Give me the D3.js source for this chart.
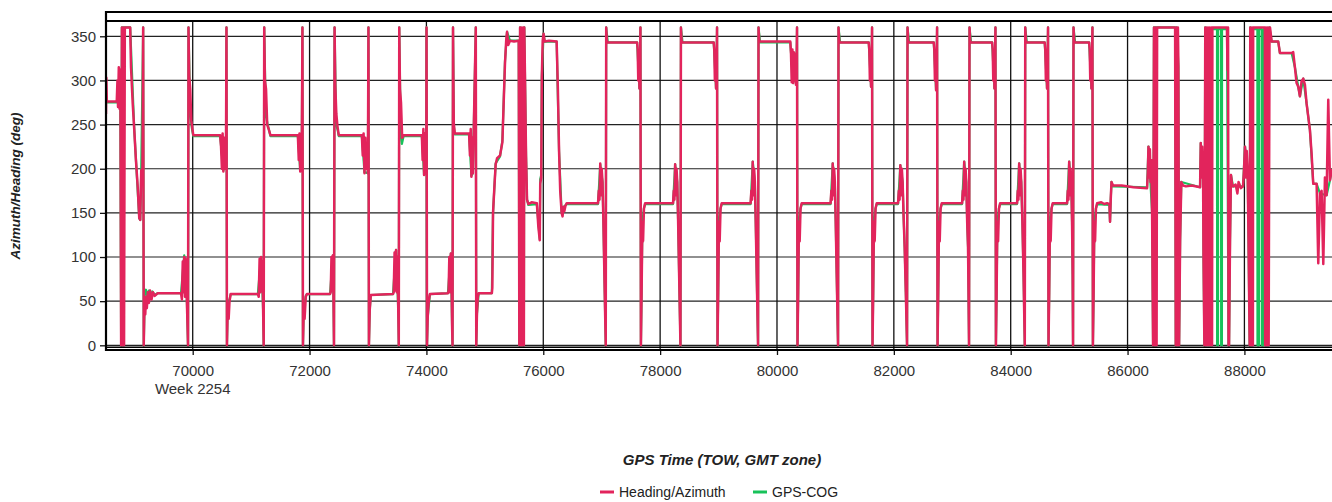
<!DOCTYPE html>
<html><head><meta charset="utf-8">
<script src="https://cdn.jsdelivr.net/npm/d3@7"></script>
<style>body{margin:0;background:#fff}svg{display:block}text{font-family:"Liberation Sans",Arial,sans-serif}</style>
</head><body><svg id="c" width="1332" height="502"></svg>
<script>
// ---- DATA ----
const seriesNames = ["Heading/Azimuth", "GPS-COG"];
const xTicks = [70000, 72000, 74000, 76000, 78000, 80000, 82000, 84000, 86000, 88000];
const yTicks = [0, 50, 100, 150, 200, 250, 300, 350];
const weekLabel = "Week 2254";
const xTitle = "GPS Time (TOW, GMT zone)";
const yTitle = "Azimuth/Heading (deg)";

// Heading/Azimuth: [GPS time (s), heading (deg)]
const headingPts = [
[68516,262],[68522,303],[68530,276],[68700,276],[68712,300],[68722,270],[68735,315],[68748,268],[68762,312],[68775,0],[68788,360],[68800,0],[68812,360],[68825,0],[68838,360],[68930,360],[68944,315],[68973,274],[69000,244],[69028,210],[69058,180],[69085,144],[69102,142],[69119,198],[69140,200],[69152,360],[69162,0],
[69175,50],[69188,35],[69200,55],[69215,42],[69232,60],[69250,48],[69270,62],[69295,52],[69320,60],[69350,56],[69400,59],[69800,59],
[69815,52],[69830,95],[69842,60],[69855,100],[69868,55],[69880,98],[69893,70],[69908,30],[69920,0],[69928,360],[69940,305],[69958,290],[69975,255],[69995,245],[70010,238],
[70470,238],[70485,225],[70500,200],[70512,240],[70525,197],[70540,235],[70555,200],[70570,230],[70578,360],[70586,0],[70600,45],[70615,30],[70630,50],[70650,58],
[71115,58],[71130,55],[71145,98],[71158,60],[71170,100],[71183,65],[71195,95],[71205,40],[71215,0],[71224,360],[71236,300],[71255,290],[71275,250],[71300,245],[71330,238],
[71800,238],[71815,210],[71828,240],[71840,197],[71852,230],[71865,200],[71878,360],[71887,0],[71900,40],[71915,30],[71935,55],[71955,58],
[72350,58],[72362,60],[72375,100],[72388,62],[72400,102],[72410,50],[72418,0],[72428,360],[72440,295],[72458,262],[72478,248],[72500,238],
[72895,238],[72910,215],[72925,240],[72940,195],[72955,235],[72970,200],[72985,225],[72998,195],[73008,360],[73016,0],[73030,40],[73048,57],
[73428,58],[73440,60],[73455,105],[73468,62],[73480,108],[73493,60],[73505,100],[73518,40],[73527,0],[73535,360],[73548,290],[73565,275],[73585,235],[73610,238],
[73922,238],[73935,210],[73948,245],[73960,193],[73972,240],[73985,195],[73998,220],[74002,360],[74010,0],[74022,32],[74040,50],[74060,58],
[74368,59],[74380,62],[74392,100],[74405,60],[74418,104],[74430,70],[74440,20],[74447,0],[74455,360],[74468,252],[74485,240],
[74730,240],[74745,215],[74758,245],[74770,191],[74782,235],[74795,195],[74845,360],[74853,0],[74865,36],[74880,55],[74895,59],
[75120,59],[75128,65],[75140,150],[75160,175],[75185,205],[75210,212],[75260,215],[75300,230],[75320,270],[75345,320],[75365,345],[75380,355],[75400,340],[75430,345],[75500,344],[75580,345],
[75590,0],[75603,360],[75617,0],[75630,360],[75645,0],[75658,360],[75668,0],[75675,360],[75690,290],[75705,215],[75722,165],[75745,160],[75800,162],[75890,161],[75915,135],[75940,119],[75948,183],[75965,190],[75975,304],[75990,345],[76005,353],[76024,344],[76100,345],[76229,344],[76250,290],[76270,220],[76290,175],[76314,150],[76330,146],[76345,157],[76360,152],[76380,158],[76400,161],
[76937,161],[76950,175],[76962,165],[76975,206],[76988,170],[77000,200],[77014,185],[77029,140],[77046,80],[77069,0],[77077,360],[77089,345],[77104,343],
[77606,343],[77616,335],[77626,300],[77636,332],[77646,291],[77656,320],[77663,360],[77671,0],[77683,60],[77696,140],[77708,118],[77723,155],[77743,161],
[78221,161],[78233,175],[78245,165],[78257,205],[78269,170],[78281,200],[78293,185],[78308,140],[78325,80],[78348,0],[78356,360],[78368,345],[78383,343],
[78917,343],[78927,335],[78937,300],[78947,332],[78957,291],[78967,320],[78974,360],[78982,0],[78994,60],[79007,140],[79019,118],[79034,155],[79054,161],
[79549,161],[79561,175],[79573,165],[79585,208],[79597,170],[79609,200],[79621,185],[79636,140],[79653,80],[79676,0],[79684,360],[79696,345],[79711,344],
[80228,344],[80240,330],[80252,298],[80264,335],[80276,297],[80288,332],[80300,300],[80312,330],[80324,295],[80336,320],[80343,360],[80351,0],[80363,60],[80376,140],[80388,118],[80403,155],[80423,161],
[80918,161],[80930,175],[80942,165],[80954,206],[80966,170],[80978,200],[80990,185],[81005,140],[81022,80],[81045,0],[81053,360],[81065,345],[81080,343],
[81570,343],[81580,335],[81590,300],[81600,332],[81610,293],[81620,320],[81627,360],[81635,0],[81647,60],[81660,140],[81672,118],[81687,155],[81707,161],
[82072,161],[82085,175],[82098,165],[82111,204],[82124,170],[82137,200],[82150,185],[82165,150],[82185,111],[82205,60],[82226,0],[82234,360],[82246,345],[82261,343],
[82683,343],[82693,335],[82703,300],[82713,332],[82723,289],[82733,320],[82740,360],[82748,0],[82760,60],[82773,140],[82785,118],[82800,155],[82820,161],
[83168,161],[83180,175],[83192,165],[83204,208],[83216,170],[83228,200],[83240,185],[83255,140],[83270,111],[83287,0],[83295,360],[83307,345],[83322,343],
[83682,343],[83692,335],[83702,300],[83712,332],[83722,291],[83732,320],[83739,360],[83747,0],[83759,60],[83772,140],[83784,118],[83799,155],[83819,161],
[84109,161],[84121,175],[84133,165],[84145,206],[84157,170],[84169,200],[84181,185],[84200,140],[84220,80],[84241,0],[84249,360],[84261,345],[84276,343],
[84582,343],[84592,335],[84602,300],[84612,332],[84622,291],[84632,320],[84639,360],[84647,0],[84659,60],[84672,140],[84684,118],[84699,155],[84719,161],
[84965,161],[84977,175],[84989,165],[85001,208],[85013,170],[85025,200],[85037,185],[85050,140],[85060,80],[85067,0],[85075,360],[85087,345],[85102,343],
[85342,343],[85352,335],[85362,300],[85372,332],[85382,291],[85392,320],[85399,360],[85407,0],[85419,60],[85432,140],[85444,118],[85459,155],[85479,161],
[85550,162],[85600,160],[85650,161],[85690,160],[85700,140],[85712,165],[85725,185],[85750,181],[85900,181],[86100,179],[86334,178],
[86346,195],[86358,225],[86370,190],[86382,222],[86394,185],[86406,210],[86420,150],[86430,60],[86437,0],[86452,360],[86467,0],[86482,360],[86497,0],[86506,360],[86814,360],[86825,0],[86840,360],[86855,0],[86862,360],[86870,316],[86882,0],[86900,120],[86920,185],[86950,181],[87000,180],[87100,181],[87241,179],
[87253,229],[87265,190],[87278,225],[87292,200],[87300,100],[87315,0],[87330,360],[87345,0],[87360,360],[87378,0],[87395,360],[87412,0],[87430,360],[87446,0],[87452,360],[87702,360],[87710,312],[87720,360],[87728,0],[87737,0],[87754,120],[87770,193],[87790,182],[87805,180],[87850,182],[87880,172],[87900,185],[87940,178],[87976,180],
[87990,195],[88010,225],[88025,190],[88040,220],[88055,200],[88070,120],[88090,0],[88100,360],[88115,0],[88130,360],[88145,0],[88150,360],[88350,360],[88355,0],[88370,360],[88385,0],[88400,360],[88415,0],[88430,360],[88438,360],
[88466,344],[88579,344],[88608,331],[88808,331],[88835,332],[88864,315],[88893,297],[88921,293],[88950,282],[88978,299],[89007,302],[89036,295],[89064,274],[89121,244],[89150,217],[89178,183],[89236,183],[89264,93],[89293,172],[89321,175],[89350,92],[89378,190],[89407,170],[89435,278],[89464,187],[89499,200]
];

// GPS-COG: [GPS time (s), course over ground (deg)]
const cogPts = [
[68516,275],[68700,275],[68760,305],[68775,0],[68788,360],[68930,360],[69000,244],[69085,144],[69102,142],[69119,198],[69152,360],[69162,0],[69180,58],[69200,63],[69225,55],[69250,62],[69280,56],[69310,61],[69350,57],[69400,59],[69800,59],[69855,102],[69893,70],[69908,30],[69920,0],[69928,360],[69958,262],[69985,246],[70010,237],
[70470,237],[70525,198],[70570,230],[70578,360],[70586,0],[70600,45],[70630,52],[70650,58],
[71115,58],[71170,100],[71205,40],[71215,0],[71224,360],[71250,262],[71280,251],[71330,237],
[71800,237],[71840,198],[71865,200],[71878,360],[71887,0],[71900,40],[71935,56],[71955,58],
[72350,58],[72400,102],[72410,50],[72418,0],[72428,360],[72455,250],[72480,244],[72500,237],
[72895,237],[72940,196],[72998,195],[73008,360],[73016,0],[73030,40],[73048,57],
[73428,58],[73480,108],[73518,40],[73527,0],[73535,360],[73560,240],[73580,228],[73610,237],
[73922,237],[73960,193],[73998,220],[74002,360],[74010,0],[74022,32],[74060,58],
[74368,59],[74418,104],[74440,20],[74447,0],[74455,360],[74470,248],[74485,239],
[74730,239],[74770,192],[74795,195],[74845,360],[74853,0],[74865,36],[74895,59],
[75120,59],[75140,150],[75185,206],[75260,214],[75300,232],[75345,322],[75380,355],[75430,345],[75580,345],[75590,0],[75603,360],[75668,0],[75675,360],[75690,290],[75705,215],[75722,165],[75745,159],[75890,160],[75940,120],[75948,188],[75965,193],[75975,304],[76005,353],[76024,344],[76229,344],[76270,220],[76314,150],[76345,156],[76400,160],
[76937,160],[76975,205],[77014,185],[77029,140],[77046,80],[77069,0],[77077,360],[77104,343],
[77606,343],[77646,291],[77656,320],[77663,360],[77671,0],[77683,60],[77696,140],[77723,155],[77743,160],
[78221,160],[78257,205],[78293,185],[78308,140],[78325,80],[78348,0],[78356,360],[78383,343],
[78917,343],[78957,291],[78967,320],[78974,360],[78982,0],[78994,60],[79007,140],[79034,155],[79054,160],
[79549,160],[79585,208],[79621,185],[79636,140],[79653,80],[79676,0],[79684,360],[79711,343],
[80228,343],[80276,297],[80336,320],[80343,360],[80351,0],[80363,60],[80376,140],[80403,155],[80423,160],
[80918,160],[80954,206],[80990,185],[81005,140],[81022,80],[81045,0],[81053,360],[81080,343],
[81570,343],[81610,293],[81620,320],[81627,360],[81635,0],[81647,60],[81660,140],[81687,155],[81707,160],
[82072,160],[82111,204],[82150,185],[82165,150],[82185,111],[82205,60],[82226,0],[82234,360],[82261,343],
[82683,343],[82723,289],[82733,320],[82740,360],[82748,0],[82760,60],[82773,140],[82800,155],[82820,160],
[83168,160],[83204,208],[83240,185],[83255,140],[83270,111],[83287,0],[83295,360],[83322,343],
[83682,343],[83722,291],[83732,320],[83739,360],[83747,0],[83759,60],[83772,140],[83799,155],[83819,160],
[84109,160],[84145,206],[84181,185],[84200,140],[84220,80],[84241,0],[84249,360],[84276,343],
[84582,343],[84622,291],[84632,320],[84639,360],[84647,0],[84659,60],[84672,140],[84699,155],[84719,160],
[84965,160],[85001,208],[85037,185],[85050,140],[85060,80],[85067,0],[85075,360],[85102,343],
[85342,343],[85382,291],[85392,320],[85399,360],[85407,0],[85419,60],[85432,140],[85459,155],[85479,160],
[85690,159],[85700,140],[85712,165],[85725,185],[85750,180],[86334,179],[86358,225],[86420,150],[86430,60],[86437,0],[86452,360],[86814,360],[86825,0],[86840,360],[86870,316],[86882,0],[86900,120],[86920,185],[87241,179],
[87253,229],[87292,200],[87300,100],[87315,0],[87330,360],[87446,358],[87531,358],[87533,0],[87548,0],[87550,358],[87600,358],[87602,0],[87615,0],[87617,358],[87702,358],[87728,0],[87737,0],[87754,120],[87770,193],[87805,180],[87976,180],
[88010,225],[88055,200],[88070,120],[88090,0],[88100,360],[88147,358],[88222,358],[88224,0],[88248,0],[88250,358],[88296,358],[88298,0],[88322,0],[88324,358],[88430,360],
[88466,344],[88579,344],[88608,331],[88808,331],[88864,315],[88950,282],[89007,302],[89064,274],[89121,244],[89178,183],[89236,183],[89293,172],[89407,170],[89464,187],[89499,200]
];

// ---- CHART ----
const colors = ["#e2245c", "#18c25a"];
const svg = d3.select("#c");
const L = 106, T = 12, B = 350, R = 1340;
const x = d3.scaleLinear().domain([68516, 89636]).range([L, R]);
const y = d3.scaleLinear().domain([-5.3, 377.5]).range([B, T]);

svg.append("rect").attr("width", 1332).attr("height", 502).attr("fill", "#fff");
svg.append("clipPath").attr("id", "clip").append("rect")
  .attr("x", L).attr("y", T).attr("width", R - L).attr("height", B - T);

// gridlines
const grid = svg.append("g");
grid.selectAll("line.h").data(yTicks).join("line").attr("class", "h")
  .attr("x1", L).attr("x2", R).attr("y1", d => y(d)).attr("y2", d => y(d))
  .attr("stroke", "#222").attr("stroke-width", 1.2);
grid.selectAll("line.v").data(xTicks).join("line").attr("class", "v")
  .attr("x1", d => x(d)).attr("x2", d => x(d)).attr("y1", 21).attr("y2", B)
  .attr("stroke", "#111").attr("stroke-width", 1.3);

// axes
const yAxis = svg.append("g").attr("transform", `translate(${L},0)`)
  .call(d3.axisLeft(y).tickValues(yTicks).tickSize(6).tickPadding(4));
const xAxis = svg.append("g").attr("transform", `translate(0,${B})`)
  .call(d3.axisBottom(x).tickValues(xTicks).tickFormat(d3.format("d")).tickSize(5).tickPadding(10));
[xAxis, yAxis].forEach(a => {
  a.select(".domain").remove();
  a.selectAll(".tick line").attr("stroke", "#111").attr("stroke-width", 1.3);
  a.selectAll(".tick text").attr("font-size", 15).attr("fill", "#333")
    .attr("font-family", '"Liberation Sans", Arial, sans-serif');
});
svg.append("text").attr("x", x(xTicks[0])).attr("y", 394).attr("text-anchor", "middle")
  .attr("font-size", 15).attr("fill", "#333").text(weekLabel);

// series
const line = d3.line().x(d => x(d[0])).y(d => y(d[1]));
const plot = svg.append("g").attr("clip-path", "url(#clip)");
plot.append("path").datum(cogPts).attr("d", line).attr("fill", "none")
  .attr("stroke", colors[1]).attr("stroke-width", 2.2).attr("stroke-linejoin", "round");
plot.append("path").datum(headingPts).attr("d", line).attr("fill", "none")
  .attr("stroke", colors[0]).attr("stroke-width", 2.5).attr("stroke-linejoin", "round");

// frame
const frame = svg.append("g").attr("stroke", "#000").attr("fill", "none");
frame.append("line").attr("x1", L).attr("x2", 1332).attr("y1", T).attr("y2", T).attr("stroke-width", 2.2);
frame.append("line").attr("x1", L).attr("x2", 1332).attr("y1", 21).attr("y2", 21).attr("stroke-width", 1.8);
frame.append("line").attr("x1", L).attr("x2", 1332).attr("y1", 347.3).attr("y2", 347.3).attr("stroke-width", 1.5);
frame.append("line").attr("x1", L).attr("x2", 1332).attr("y1", B).attr("y2", B).attr("stroke-width", 1.8);
frame.append("line").attr("x1", L).attr("x2", L).attr("y1", T - 1).attr("y2", B + 1).attr("stroke-width", 2.2);

// titles
svg.append("text").attr("transform", "translate(20,186) rotate(-90)").attr("text-anchor", "middle")
  .attr("font-size", 13.5).attr("font-weight", "bold").attr("font-style", "italic").attr("fill", "#222").text(yTitle);
svg.append("text").attr("x", 722).attr("y", 465).attr("text-anchor", "middle")
  .attr("font-size", 15).attr("font-weight", "bold").attr("font-style", "italic").attr("fill", "#222").text(xTitle);

// legend
const legendX = [600, 753];
seriesNames.forEach((n, i) => {
  const lg = svg.append("g").attr("transform", `translate(${legendX[i]},492)`);
  lg.append("line").attr("x1", 0).attr("x2", 14).attr("stroke", colors[i]).attr("stroke-width", 3);
  lg.append("text").attr("x", 19).attr("y", 5).attr("font-size", 14).attr("fill", "#222").text(n);
});
</script></body></html>
